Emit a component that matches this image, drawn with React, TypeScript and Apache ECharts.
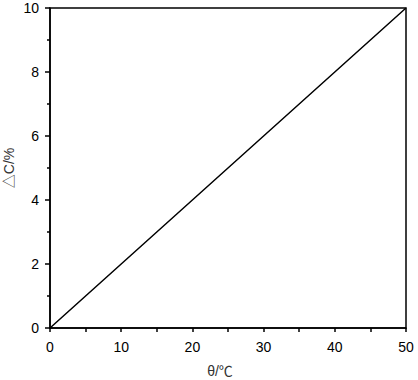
import React, { useEffect, useRef } from "react";
import * as echarts from "echarts";

const xValues = [0, 10, 20, 30, 40, 50];
const yValues = [0, 2, 4, 6, 8, 10];
const xName = "θ/℃";
const yName = "△C/%";

export default function App() {
  const ref = useRef<HTMLDivElement>(null);
  useEffect(() => {
    if (!ref.current) return;
    const chart = echarts.init(ref.current, undefined, { renderer: "svg" });
    const font = "'Liberation Sans', Arial, 'Noto Sans CJK SC', sans-serif";
    chart.setOption({
      animation: false,
      backgroundColor: "#fff",
      grid: {
        left: 50,
        right: 12,
        top: 8,
        bottom: 52,
        outerBoundsMode: "none",
        containLabel: false,
        show: true,
        borderColor: "#000",
        borderWidth: 1.5,
      },
      xAxis: {
        type: "value",
        min: 0,
        max: 50,
        interval: 10,
        name: xName,
        nameLocation: "middle",
        nameGap: 36,
        nameMoveOverlap: false,
        nameTextStyle: { fontFamily: font, fontSize: 14, color: "#333", padding: [0, 16, 0, 0] },
        axisLine: { show: true, onZero: false, lineStyle: { color: "#000", width: 1.5 } },
        axisTick: { show: true, length: 4, lineStyle: { color: "#000", width: 1.5 } },
        minorTick: { show: true, splitNumber: 2, length: 4, lineStyle: { color: "#000", width: 1.5 } },
        splitLine: { show: false },
        axisLabel: { fontFamily: font, fontSize: 14, color: "#000", margin: 12 },
      },
      yAxis: {
        type: "value",
        min: 0,
        max: 10,
        interval: 2,
        name: yName,
        nameLocation: "middle",
        nameGap: 34,
        nameMoveOverlap: false,
        nameTextStyle: { fontFamily: font, fontSize: 14, lineHeight: 14, color: "#333" },
        axisLine: { show: true, onZero: false, lineStyle: { color: "#000", width: 1.5 } },
        axisTick: { show: true, length: 5, lineStyle: { color: "#000", width: 1.5 } },
        minorTick: { show: true, splitNumber: 2, length: 3, lineStyle: { color: "#000", width: 1.5 } },
        splitLine: { show: false },
        axisLabel: { fontFamily: font, fontSize: 14, color: "#000", margin: 11 },
      },
      series: [
        {
          type: "line",
          data: xValues.map((x, i) => [x, yValues[i]]),
          showSymbol: false,
          lineStyle: { color: "#000", width: 1.5 },
        },
      ],
    });
    return () => chart.dispose();
  }, []);
  return <div ref={ref} style={{ width: 418, height: 380, position: "absolute", left: 0, top: 0 }} />;
}
